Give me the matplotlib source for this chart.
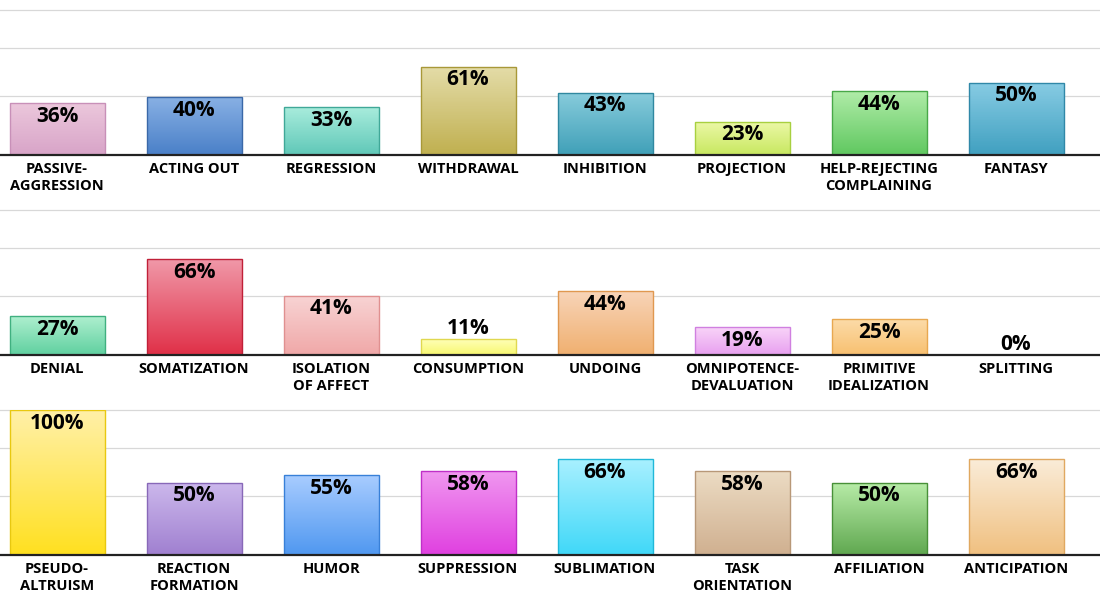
import matplotlib
matplotlib.use("Agg")
import matplotlib.pyplot as plt
import numpy as np
from matplotlib.colors import LinearSegmentedColormap

row1_labels = ["PASSIVE-\nAGGRESSION", "ACTING OUT", "REGRESSION", "WITHDRAWAL", "INHIBITION", "PROJECTION", "HELP-REJECTING\nCOMPLAINING", "FANTASY"]
row1_values = [36, 40, 33, 61, 43, 23, 44, 50]
row2_labels = ["DENIAL", "SOMATIZATION", "ISOLATION\nOF AFFECT", "CONSUMPTION", "UNDOING", "OMNIPOTENCE-\nDEVALUATION", "PRIMITIVE\nIDEALIZATION", "SPLITTING"]
row2_values = [27, 66, 41, 11, 44, 19, 25, 0]
row3_labels = ["PSEUDO-\nALTRUISM", "REACTION\nFORMATION", "HUMOR", "SUPPRESSION", "SUBLIMATION", "TASK\nORIENTATION", "AFFILIATION", "ANTICIPATION"]
row3_values = [100, 50, 55, 58, 66, 58, 50, 66]
grid_values = [40.7, 73.8, 100]

row1_colors = [("#ecc8dc", "#d8a4c8", "#c890b8"), ("#88b0e4", "#4a80c8", "#3a68a8"), ("#a8ecdc", "#60c8b8", "#40a898"),
               ("#e4dca8", "#c0b050", "#a89838"), ("#88ccdc", "#40a0b8", "#3088a0"), ("#ecf8a8", "#c8e860", "#a8d040"),
               ("#b0eca8", "#60c860", "#48a848"), ("#88cce4", "#40a0c0", "#3088a8")]
row2_colors = [("#b0f0d0", "#60d0a0", "#40b080"), ("#f098a8", "#e03048", "#c02038"), ("#f8d4d4", "#f0a8a8", "#e09090"),
               ("#ffffb8", "#f8f870", "#e0d850"), ("#f8d4b8", "#f0b070", "#e09850"), ("#f8d4f8", "#e8a0f0", "#d080e0"),
               ("#fcdcaa", "#f8c070", "#e8a850"), ("#ffffff", "#ffffff", "#ffffff")]
row3_colors = [("#fff0a8", "#ffe020", "#e8c810"), ("#ccb8ec", "#a080d0", "#8868b8"), ("#a8ccff", "#5098f0", "#3880d8"),
               ("#f098f0", "#e040e0", "#c030c8"), ("#a8f0ff", "#40d8f8", "#20b8d8"), ("#ecdcc4", "#d0b090", "#b89878"),
               ("#b8eca8", "#60a850", "#489038"), ("#faecd8", "#f0c080", "#e0a860")]

W, H = 1100, 600
fig = plt.figure(figsize=(11, 6), dpi=100)
rows = [(row1_labels, row1_values, row1_colors, 155),
        (row2_labels, row2_values, row2_colors, 355),
        (row3_labels, row3_values, row3_colors, 555)]
slot = 137.0
c0 = 57.0
bw = 95.0 / slot
xmin = -c0 / slot
xmax = (W - c0) / slot
font = "Open Sans"

for labels, values, colors, base in rows:
    ax = fig.add_axes([0, (H - base) / H, 1, 145 / H])
    ax.set_xlim(xmin, xmax)
    ax.set_ylim(0, 100)
    ax.axis("off")
    for g in grid_values:
        ax.axhline(g, color="#d8d8d8", lw=0.9, zorder=0, clip_on=False)
    ax.axhline(0, color="#222222", lw=1.6, zorder=5, clip_on=False)
    for i, (lab, v, (ctop, cbot, cedge)) in enumerate(zip(labels, values, colors)):
        if v > 0:
            rect = plt.Rectangle((i - bw / 2, 0), bw, v, facecolor="none", edgecolor=cedge, lw=1, zorder=3)
            ax.add_patch(rect)
            cmap = LinearSegmentedColormap.from_list("g", [cbot, ctop])
            grad = np.linspace(0, 1, 100).reshape(-1, 1)
            im = ax.imshow(grad, extent=(i - bw / 2, i + bw / 2, 0, v), origin="lower",
                           aspect="auto", cmap=cmap, zorder=2)
            im.set_clip_path(rect)
        if v >= 15:
            ax.annotate(f"{v}%", (i, v), xytext=(0, -2), textcoords="offset points",
                        ha="center", va="top", fontsize=15, fontweight="bold", family=font, zorder=6)
        else:
            ax.annotate(f"{v}%", (i, v), xytext=(0, 0), textcoords="offset points",
                        ha="center", va="bottom", fontsize=15, fontweight="bold", family=font, zorder=6)
        ax.annotate(lab, (i, 0), xytext=(0, -5), textcoords="offset points", ha="center", va="top",
                    fontsize=10.5, fontweight="bold", family=font, linespacing=1.25, annotation_clip=False)

fig.savefig("out.png", dpi=100)
